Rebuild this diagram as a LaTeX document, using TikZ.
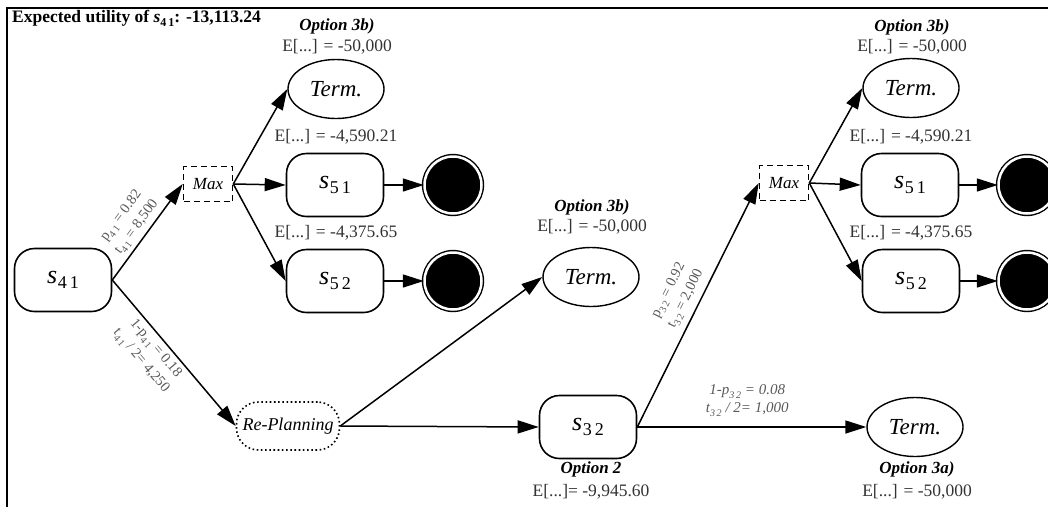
\documentclass[tikz,border=0pt]{standalone}
\usepackage{fontspec}
\setmainfont{Liberation Serif}
\usetikzlibrary{arrows.meta,shapes.geometric}
\newcommand{\sv}[2]{{\itshape s}\kern0.5pt\raisebox{-0.22em}{\fontsize{18}{18}\selectfont #1\,#2}}
\newcommand{\es}[2]{#1\raisebox{-0.25em}{\fontsize{10}{10}\selectfont #2}}
\begin{document}
\begin{tikzpicture}[x=1pt,y=1pt,
  state/.style={draw, rectangle, rounded corners=20pt, line width=1.6pt, minimum width=97pt, minimum height=63pt, inner sep=0pt, font=\fontsize{26}{26}\selectfont},
  termnode/.style={draw, ellipse, line width=1.4pt, minimum width=96pt, minimum height=59pt, inner sep=0pt, font=\itshape\fontsize{23}{23}\selectfont},
  maxnode/.style={draw, rectangle, dash pattern=on 6pt off 4pt, line width=1.6pt, minimum width=49pt, minimum height=35pt, inner sep=0pt, font=\itshape\fontsize{17}{17}\selectfont},
  replan/.style={draw, rectangle, rounded corners=22pt, dash pattern=on 1.6pt off 2.6pt, line width=1.6pt, minimum width=103pt, minimum height=48pt, inner sep=0pt, font=\itshape\fontsize{18}{18}\selectfont},
  endnode/.style={circle, draw=black, fill=black, double=white, double distance=2.5pt, line width=1.4pt, minimum size=57pt, inner sep=0pt},
  edge/.style={draw, line width=1.5pt, -{Triangle[length=21pt,width=13pt]}},
  lbl/.style={font=\fontsize{14.5}{19}\selectfont, text=black!65, align=center, inner sep=4pt},
  opt/.style={font=\bfseries\itshape\fontsize{17}{17}\selectfont, inner sep=0pt},
  val/.style={font=\fontsize{17.5}{18}\selectfont, text=black!80, inner sep=0pt}
]
\useasboundingbox (0,0) rectangle (1048,-507);
\clip (0,0) rectangle (1048,-507);
\draw[line width=2.2pt] (7,-507) -- (7,-8) -- (1048,-8);

\node[anchor=west, inner sep=0pt, font=\bfseries\fontsize{17.5}{20}\selectfont] (title) at (12,-18)
  {Expected utility of {\itshape s}\raisebox{-0.22em}{\fontsize{12}{12}\selectfont 4\,1}: -13,113.24};

% left part
\node[state] (s41) at (63,-280) {\sv{4}{1}};
\node[maxnode] (max1) at (208,-184) {Max};
\node[termnode] (t1) at (336,-89) {Term.};
\node[state] (s51a) at (335,-185) {\sv{5}{1}};
\node[endnode] (e1) at (453,-185) {};
\node[state] (s52a) at (335,-281) {\sv{5}{2}};
\node[endnode] (e2) at (453,-281) {};
\node[replan] (rp) at (288,-426) {Re-Planning};
\node[termnode] (tm) at (591,-277) {Term.};
\node[state] (s32) at (588,-427) {\sv{3}{2}};
% right part
\node[maxnode] (max2) at (784,-183) {Max};
\node[termnode] (t2) at (911,-88) {Term.};
\node[state] (s51b) at (910,-185) {\sv{5}{1}};
\node[endnode] (e3) at (1027,-185) {};
\node[state] (s52b) at (911,-281) {\sv{5}{2}};
\node[endnode] (e4) at (1027,-281) {};
\node[termnode] (tb) at (915,-427) {Term.};

% value labels
\node[opt] (o1) at (337,-26) {Option 3b)};
\node[val] (v1) at (337,-47) {E[...] = -50,000};
\node[val] (v2) at (336,-137) {E[...] = -4,590.21};
\node[val] (v3) at (336,-233) {E[...] = -4,375.65};
\node[opt] (o2) at (592,-207) {Option 3b)};
\node[val] (v4) at (592,-227) {E[...] = -50,000};
\node[opt] (o3) at (912,-27) {Option 3b)};
\node[val] (v5) at (912,-47) {E[...] = -50,000};
\node[val] (v6) at (911,-137) {E[...] = -4,590.21};
\node[val] (v7) at (911,-233) {E[...] = -4,375.65};
\node[opt] (o4) at (591,-469) {Option 2};
\node[val] (v8) at (591,-492) {E[...]= -9,945.60};
\node[opt] (o5) at (917,-469) {Option 3a)};
\node[val] (v9) at (917,-492) {E[...] = -50,000};

% edges
\draw[edge] (s41.east) -- node[lbl, sloped, above, pos=0.48] {\es{p}{4\,1} = 0.82\\\es{t}{4\,1} = 8,500} (max1.west);
\draw[edge] (s41.east) -- node[lbl, sloped, below, pos=0.42] {1-\es{p}{4\,1} = 0.18\\\es{t}{4\,1} / 2= 4,250} (rp.west);
\draw[edge] (max1.east) -- (t1.west);
\draw[edge] (max1.east) -- (s51a.west);
\draw[edge] (max1.east) -- (s52a.west);
\draw[edge] (s51a) -- (e1);
\draw[edge] (s52a) -- (e2);
\draw[edge] (rp.east) -- (tm.west);
\draw[edge] (rp.east) -- (s32.west);
\draw[edge] (s32.east) -- node[lbl, sloped, above, pos=0.5, inner sep=6pt] {\es{p}{3\,2} = 0.92\\\es{t}{3\,2} = 2,000} (max2.west);
\draw[edge] (s32.east) -- node[lbl, above, pos=0.48, inner sep=10pt, font=\itshape\fontsize{15}{18}\selectfont] {1-\es{p}{3\,2} = 0.08\\\es{t}{3\,2} / 2= 1,000} (tb.west);
\draw[edge] (max2.east) -- (t2.west);
\draw[edge] (max2.east) -- (s51b.west);
\draw[edge] (max2.east) -- (s52b.west);
\draw[edge] (s51b) -- (e3);
\draw[edge] (s52b) -- (e4);
\end{tikzpicture}
\end{document}
